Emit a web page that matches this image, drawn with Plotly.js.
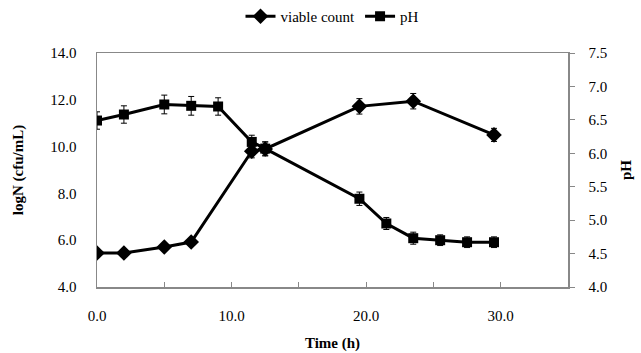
<!DOCTYPE html>
<html><head><meta charset="utf-8">
<script src="https://cdn.plot.ly/plotly-3.0.1.min.js"></script>
<style>
html,body{margin:0;padding:0;background:#fff}#c{width:641px;height:353px}
</style>
</head><body><div id="c"></div>
<script>
var timeViable = [0, 2, 5, 7, 11.5, 12.5, 19.5, 23.5, 29.5];
var viableCount = [5.45, 5.45, 5.71, 5.92, 9.8, 9.9, 11.72, 11.94, 10.5];
var viableErr = [0.1, 0.1, 0.15, 0.15, 0.28, 0.3, 0.33, 0.33, 0.28];
var timePH = [0, 2, 5, 7, 9, 11.5, 12.5, 19.5, 21.5, 23.5, 25.5, 27.5, 29.5];
var pH = [6.49, 6.58, 6.73, 6.71, 6.70, 6.17, 6.07, 5.32, 4.95, 4.73, 4.70, 4.67, 4.67];
var pHErr = [0.13, 0.13, 0.14, 0.14, 0.13, 0.1, 0.1, 0.1, 0.09, 0.09, 0.08, 0.08, 0.08];
var xTickVals = [0, 5, 10, 15, 20, 25, 30, 35];
var xTickText = ['0.0', '', '10.0', '', '20.0', '', '30.0', ''];

function f(sz) { return {family: 'Liberation Serif', size: sz || 15, color: '#000'}; }
var traces = [
  {x: timeViable, y: viableCount, name: 'viable count', type: 'scatter', mode: 'lines+markers',
   line: {color: '#000', width: 3}, marker: {symbol: 'diamond', size: 12, color: '#000'},
   error_y: {type: 'data', array: viableErr, visible: true, color: '#000', thickness: 1, width: 3}},
  {x: timePH, y: pH, name: 'pH', type: 'scatter', mode: 'lines+markers', yaxis: 'y2',
   line: {color: '#000', width: 3}, marker: {symbol: 'square', size: 10, color: '#000'},
   error_y: {type: 'data', array: pHErr, visible: true, color: '#000', thickness: 1, width: 3}}
];
var layout = {
  width: 641, height: 353,
  margin: {l: 97, r: 73, t: 53, b: 66},
  paper_bgcolor: '#fff', plot_bgcolor: '#fff',
  font: f(15),
  showlegend: true,
  legend: {orientation: 'h', x: 0.5, xanchor: 'center', y: 1.0, yref: 'container', yanchor: 'top',
           font: f(15), itemwidth: 30, tracegroupgap: 0},
  xaxis: {range: [0, 35], tickvals: xTickVals, ticktext: xTickText, ticks: 'inside', ticklen: 5,
          tickcolor: '#888', showline: true, linecolor: '#888', linewidth: 1.5, mirror: true,
          showgrid: false, zeroline: false, tickfont: f(15), ticklabelstandoff: 14,
          title: {text: '<b>Time (h)</b>', font: f(15), standoff: 15}},
  yaxis: {range: [4, 14], dtick: 2, tickformat: '.1f', ticks: '', showline: true, linecolor: '#888',
          linewidth: 1.5, showgrid: false, zeroline: false, tickfont: f(15), ticklabelstandoff: 16,
          title: {text: '<b>logN (cfu/mL)</b>', font: f(15), standoff: 23}},
  yaxis2: {range: [4, 7.5], dtick: 0.5, tickformat: '.1f', overlaying: 'y', side: 'right',
           ticks: 'outside', ticklen: 5, tickcolor: '#888', showline: true, linecolor: '#888',
           linewidth: 1.5, showgrid: false, zeroline: false, tickfont: f(15), ticklabelstandoff: 11,
           title: {text: '<b>pH</b>', font: f(15), standoff: 14}}
};
Plotly.newPlot('c', traces, layout, {displayModeBar: false, staticPlot: true});
</script></body></html>
